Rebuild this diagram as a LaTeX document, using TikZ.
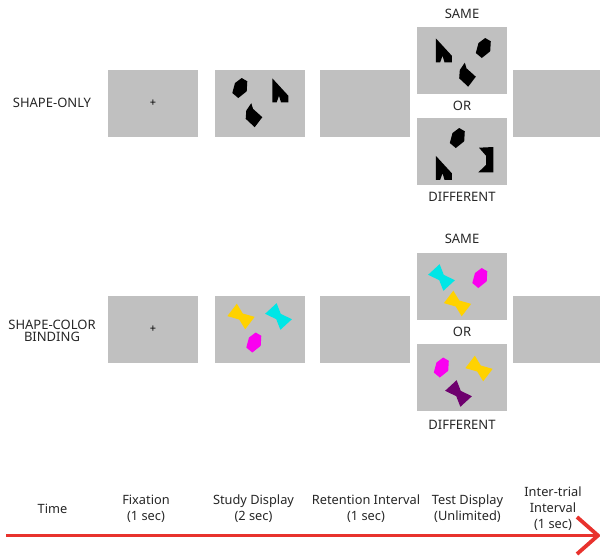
\documentclass[tikz,border=0pt]{standalone}
\usepackage{fontspec}
\setmainfont{Noto Sans}
\definecolor{screengray}{RGB}{192,192,192}
\definecolor{stimyellow}{RGB}{255,210,0}
\definecolor{stimcyan}{RGB}{0,230,230}
\definecolor{stimmagenta}{RGB}{250,0,240}
\definecolor{stimpurple}{RGB}{110,0,110}
\definecolor{timered}{RGB}{232,50,45}
\newcommand\hexpath{(-5,-5) -- (1.7,-10) -- (7.3,-6.7) -- (6.7,3.3) -- (-1.7,10) -- (-7.7,5) -- cycle}
\newcommand\notchpath{(-7.7,-11.7) -- (8.3,5.7) -- (8.3,12.3) -- (1,12.3) -- (-1,5.7) -- (-3.3,12.3) -- (-7.7,12.3) -- cycle}
\newcommand\bentpath{(-2.7,-12.3) -- (-1,-6.7) -- (8.3,1.7) -- (0.7,11.7) -- (-8.3,3.3) -- (-7.7,-5) -- cycle}
\newcommand\bracketpath{(-7,-12.3) -- (7.3,-13) -- (7.3,12.3) -- (-7.7,12.3) -- (0,5) -- (0,-4.3) -- cycle}
\newcommand\bowpath{(-10,-9) -- (0,-3.5) -- (12,-6.5) -- (10,9) -- (0,3.5) -- (-12,6.5) -- cycle}
\begin{document}
\begin{tikzpicture}[x=1pt,y=-1pt,
  screen/.style={fill=screengray, draw=none, inner sep=0pt, minimum width=90pt, minimum height=67pt},
  lbl/.style={font=\fontsize{13}{14}\selectfont, inner sep=0pt, text=black!85},
  tl/.style={font=\fontsize{12.8}{16}\selectfont, inner sep=0pt, align=center, text=black!85},
  fixmark/.style={font=\fontsize{11}{11}\selectfont, inner sep=0pt}]
\useasboundingbox (0,0) rectangle (600,555);
% ---------- row 1 ----------
\node[lbl] (shapeonly) at (52,103) {SHAPE-ONLY};
\node[screen] (fixA) at (153,103.5) {};
\node[fixmark] (crossA) at (fixA.center) {+};
\node[screen] (studyA) at (259.5,103.5) {};
\node[screen] (retA) at (365,103.5) {};
\node[screen] (sameA) at (461.7,60.5) {};
\node[screen] (diffA) at (461.7,151.5) {};
\node[screen, minimum width=88pt] (itiA) at (557,103.5) {};
\node[lbl] (sameAl) at (462,14) {SAME};
\node[lbl] (orA) at (462,106) {OR};
\node[lbl] (diffAl) at (462,197) {DIFFERENT};
% study shapes
\fill[black, shift={(240,88)}] \hexpath;
\fill[black, shift={(280,90)}] \notchpath;
\fill[black, shift={(254,115.5)}] \bentpath;
% same
\fill[black, shift={(443.5,50)}] \notchpath;
\fill[black, shift={(483.5,48)}] \hexpath;
\fill[black, shift={(467.5,75)}] \bentpath;
% different
\fill[black, shift={(457.5,138)}] \hexpath;
\fill[black, shift={(443.5,167.5)}] \notchpath;
\fill[black, shift={(486,160)}] \bracketpath;
% ---------- row 2 ----------
\node[lbl, align=center, font=\fontsize{13}{12.5}\selectfont] (binding) at (52,331) {SHAPE-COLOR\\BINDING};
\node[screen] (fixB) at (153,329) {};
\node[fixmark] (crossB) at (fixB.center) {+};
\node[screen] (studyB) at (259.5,329) {};
\node[screen] (retB) at (365,329) {};
\node[screen] (sameB) at (461.7,286) {};
\node[screen] (diffB) at (461.7,377.5) {};
\node[screen, minimum width=88pt] (itiB) at (557,329) {};
\node[lbl] (sameBl) at (462,238.5) {SAME};
\node[lbl] (orB) at (462,332) {OR};
\node[lbl] (diffBl) at (462,425) {DIFFERENT};
% study
\fill[stimyellow, shift={(241,316.5)}, rotate=-30] \bowpath;
\fill[stimcyan, shift={(278.5,316.5)}, rotate=-40] \bowpath;
\fill[stimmagenta, shift={(254,342.5)}] \hexpath;
% same
\fill[stimcyan, shift={(441.5,277.5)}, rotate=-40] \bowpath;
\fill[stimmagenta, shift={(480,278)}] \hexpath;
\fill[stimyellow, shift={(457.5,303.5)}, rotate=-30] \bowpath;
% different
\fill[stimmagenta, shift={(441.5,367.5)}] \hexpath;
\fill[stimyellow, shift={(479,368.5)}, rotate=-30] \bowpath;
\fill[stimpurple, shift={(458.5,393.5)}, rotate=-40] \bowpath;
% ---------- timeline ----------
\node[tl] (time) at (52.5,509) {Time};
\node[tl] (tfix) at (146,508.5) {Fixation\\(1 sec)};
\node[tl] (tstudy) at (253.5,508.5) {Study Display\\(2 sec)};
\node[tl] (tret) at (366,508.5) {Retention Interval\\(1 sec)};
\node[tl] (ttest) at (467.5,508.5) {Test Display\\(Unlimited)};
\node[tl] (titi) at (553,508.5) {Inter-trial\\Interval\\(1 sec)};
\coordinate (arrstart) at (6,535.5);
\coordinate (arrtip) at (598,535.5);
\coordinate (chevtop) at (577,517);
\coordinate (chevbot) at (577,554);
\draw[timered, line width=3.5pt] (arrstart) -- (arrtip);
\draw[timered, line width=3.8pt, line join=miter] (chevtop) -- (arrtip) -- (chevbot);
\end{tikzpicture}
\end{document}
